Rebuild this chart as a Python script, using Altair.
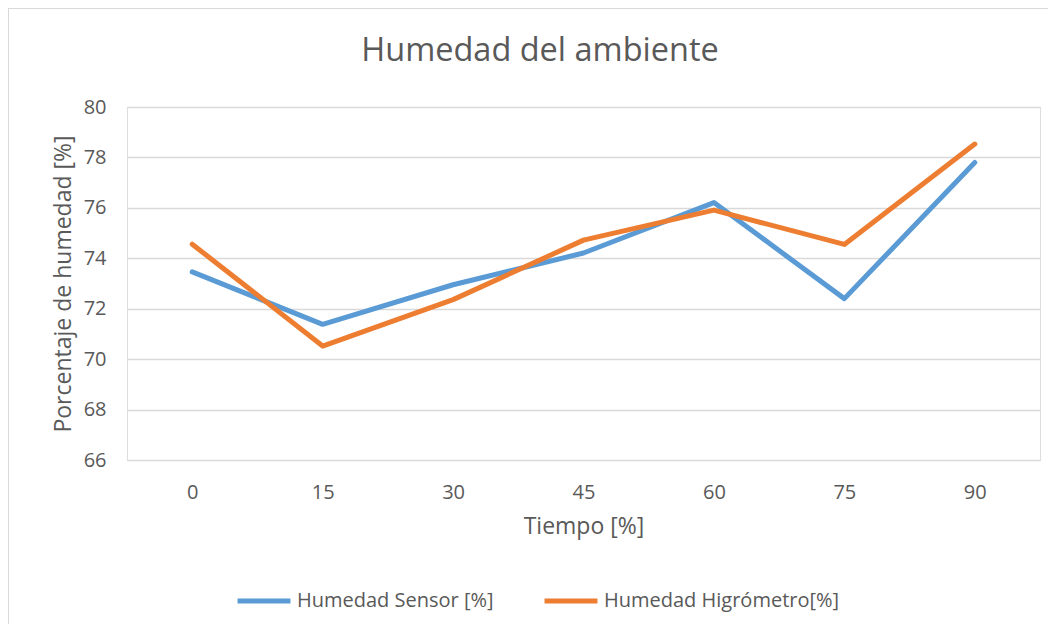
import altair as alt
import pandas as pd

tiempo = [0, 15, 30, 45, 60, 75, 90]
sensor = [73.46, 71.38, 72.95, 74.21, 76.21, 72.40, 77.80]
higrometro = [74.56, 70.52, 72.36, 74.72, 75.91, 74.55, 78.53]
series_names = ["Humedad Sensor [%]", "Humedad Higrómetro[%]"]
colors = ["#5B9BD5", "#ED7D31"]
y_ticks = [66, 68, 70, 72, 74, 76, 78, 80]
chart_title = "Humedad del ambiente"

rows = []
for t, s, h in zip(tiempo, sensor, higrometro):
    rows.append({"Tiempo": t, "Serie": series_names[0], "Valor": s})
    rows.append({"Tiempo": t, "Serie": series_names[1], "Valor": h})
df = pd.DataFrame(rows)

FONT = "Open Sans"
TXT = "#595959"
GRID = "#D9D9D9"

W, H = 913, 353

lines = alt.Chart(df).mark_line(
    strokeWidth=5, strokeCap="round", strokeJoin="round"
).encode(
    x=alt.X(
        "Tiempo:O",
        sort=tiempo,
        scale=alt.Scale(paddingInner=0, paddingOuter=0),
        axis=alt.Axis(
            title="Tiempo [%]",
            labelAngle=0,
            ticks=False,
            domain=False,
            grid=False,
            labelPadding=22,
            labelFontSize=20,
            labelColor=TXT,
            labelFont=FONT,
            titleFont=FONT,
            titleFontSize=23,
            titleFontWeight="normal",
            titleColor=TXT,
            titleBaseline="top",
            titleY=55,
        ),
    ),
    y=alt.Y(
        "Valor:Q",
        scale=alt.Scale(domain=[66, 80], nice=False, zero=False),
        axis=alt.Axis(
            title="Porcentaje de humedad [%]",
            values=y_ticks,
            ticks=False,
            domain=False,
            grid=True,
            gridColor=GRID,
            gridWidth=1.5,
            labelPadding=21,
            labelFontSize=20,
            labelColor=TXT,
            labelFont=FONT,
            titleFont=FONT,
            titleFontSize=23,
            titleFontWeight="normal",
            titleColor=TXT,
            titleAngle=-90,
            titleAlign="center",
            titleBaseline="middle",
            titleX=-64,
            titleY=H / 2,
        ),
    ),
    color=alt.Color(
        "Serie:N",
        sort=series_names,
        scale=alt.Scale(domain=series_names, range=colors),
        legend=alt.Legend(
            title=None,
            orient="none",
            direction="horizontal",
            legendX=108,
            legendY=465,
            symbolType="stroke",
            symbolSize=2800,
            symbolStrokeWidth=5,
            labelFontSize=20,
            labelFont=FONT,
            labelColor=TXT,
            labelOffset=4,
            columnPadding=40,
            labelLimit=400,
        ),
    ),
)

frame_df = pd.DataFrame({"k": [0]})
frame = alt.Chart(frame_df).mark_rect(
    fill="transparent", stroke=GRID, strokeWidth=2
).encode(
    x=alt.value(-119), x2=alt.value(2000),
    y=alt.value(-99), y2=alt.value(2000),
)

title_df = pd.DataFrame({"t": [chart_title]})
title = alt.Chart(title_df).mark_text(
    font=FONT, fontSize=32.5, color=TXT, align="center", baseline="alphabetic"
).encode(
    text="t:N",
    x=alt.value(413),
    y=alt.value(-46),
)

chart = alt.layer(frame, lines, title).properties(
    width=W,
    height=H,
    autosize=alt.AutoSizeParams(type="none"),
    padding={"left": 119, "top": 99, "right": 8, "bottom": 164},
).configure_view(stroke=None).configure(background="white")

chart.save("out.html", embed_options={"renderer": "svg", "actions": False})
